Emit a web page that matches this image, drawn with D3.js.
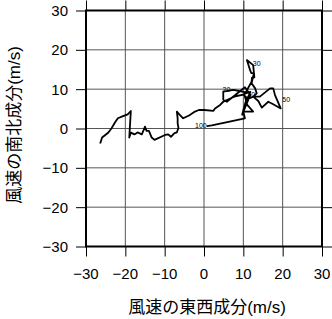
<!DOCTYPE html>
<html>
<head>
<meta charset="utf-8">
<script src="https://cdn.jsdelivr.net/npm/d3@7"></script>
<style>
  body { margin: 0; background: #fff; }
  text { font-family: "Liberation Sans", "Noto Sans CJK JP", sans-serif; fill: #000; }
</style>
</head>
<body>
<script>
// hodograph: east-west (u) and north-south (v) wind components, m/s
var uWind = [0.7, 2.0, 10.4, 10.0, 12.5, 11.0, 10.2, 11.8, 10.5, 9.7, 11.8, 10.4, 5.8, 4.9, 4.9, 7.5, 10.6,
  12.1, 12.2, 12.8, 12.7, 12.0, 11.7, 10.9, 12.5, 12.7, 12.1, 13.0, 13.4, 12.5, 14.2, 16.8, 17.6, 18.05, 19.5,
  17.6, 16.35, 14.7, 13.8, 12.5, 11.2, 10.0, 8.0, 5.8, 4.9, 4.1, 2.8, 2.4, 0.1,
  -1.3, -2.3, -3.8, -5.3, -6.1, -6.9, -6.7, -6.7, -6.5, -6.9, -7.5, -8.4, -9.1, -9.9, -12.6, -13.3,
  -14.0, -14.6, -15.0, -15.8, -16.9, -17.7, -18.56, -19.0, -18.6, -19.4, -20.9, -21.9, -22.6, -23.5,
  -24.3, -25.9, -26.4];
var vWind = [0.6, 0.8, 2.6, 4.3, 4.3, 6.0, 8.8, 9.3, 6.5, 3.5, 8.6, 10.5, 6.8, 7.3, 9.4, 9.8, 9.2,
  11.9, 12.9, 13.0, 14.1, 14.1, 14.9, 17.4, 16.1, 14.1, 11.5, 10.2, 8.95, 8.1, 8.1, 10.2, 10.2, 8.5, 5.1,
  6.15, 6.8, 5.3, 7.0, 8.1, 7.5, 8.6, 8.2, 7.25, 6.8, 6.0, 5.1, 4.5, 4.7,
  4.7, 4.3, 3.3, 2.6, 3.4, 4.3, 2.6, 1.3, 0.2, -1.0, -1.2, -2.1, -1.5, -1.65, -2.9, -2.3,
  -0.6, -0.6, 0.46, -1.5, -1.0, -1.5, -1.06, -2.3, 4.45, 3.6, 3.0, 2.6, 1.6, 0.05,
  -1.0, -2.3, -3.8];

// height labels along the curve
var markText = ["100", "10", "20", "30", "50"];
var markU = [-0.8, 12.0, 5.7, 13.4, 20.9];
var markV = [0.7, 8.6, 9.9, 16.4, 7.4];

var ticks = [-30, -20, -10, 0, 10, 20, 30];

var W = 332, H = 319;
var pL = 86, pR = 322, pT = 10.5, pB = 246.5;

var svg = d3.select("body").append("svg")
    .attr("width", W)
    .attr("height", H);

var x = d3.scaleLinear().domain([-30, 30]).range([pL, pR]);
var y = d3.scaleLinear().domain([-30, 30]).range([pB, pT]);

// grid
svg.append("g").selectAll("line")
    .data(ticks.slice(1, -1))
    .enter().append("line")
    .attr("x1", function(d) { return x(d); })
    .attr("x2", function(d) { return x(d); })
    .attr("y1", pT).attr("y2", pB)
    .attr("stroke", "#555").attr("stroke-width", 1);

svg.append("g").selectAll("line")
    .data(ticks.slice(1, -1))
    .enter().append("line")
    .attr("y1", function(d) { return y(d); })
    .attr("y2", function(d) { return y(d); })
    .attr("x1", pL).attr("x2", pR)
    .attr("stroke", "#555").attr("stroke-width", 1);

// axes, ticks on all four sides
var tickOut = 10;
svg.append("g").attr("transform", "translate(0," + pB + ")")
    .call(d3.axisBottom(x).tickValues(ticks).tickSize(tickOut).tickFormat(""));
svg.append("g").attr("transform", "translate(0," + pT + ")")
    .call(d3.axisTop(x).tickValues(ticks).tickSize(tickOut).tickFormat(""));
svg.append("g").attr("transform", "translate(" + pL + ",0)")
    .call(d3.axisLeft(y).tickValues(ticks).tickSize(tickOut).tickFormat(""));
svg.append("g").attr("transform", "translate(" + pR + ",0)")
    .call(d3.axisRight(y).tickValues(ticks).tickSize(tickOut).tickFormat(""));
svg.selectAll(".domain").remove();
svg.selectAll(".tick line").attr("stroke", "#000").attr("stroke-width", 1);

var fmt = function(d) { return d < 0 ? "\u2212" + (-d) : "" + d; };

svg.append("g").selectAll("text")
    .data(ticks)
    .enter().append("text")
    .attr("x", function(d) { return x(d); })
    .attr("y", 279)
    .attr("text-anchor", "middle")
    .attr("font-size", 15)
    .text(fmt);

svg.append("g").selectAll("text")
    .data(ticks)
    .enter().append("text")
    .attr("x", 68)
    .attr("y", function(d) { return y(d); })
    .attr("dy", "0.36em")
    .attr("text-anchor", "end")
    .attr("font-size", 15)
    .text(fmt);

// frame
svg.append("rect")
    .attr("x", pL).attr("y", pT)
    .attr("width", pR - pL).attr("height", pB - pT)
    .attr("fill", "none").attr("stroke", "#000").attr("stroke-width", 2);

// hodograph line
var pts = uWind.map(function(u, i) { return [u, vWind[i]]; });
svg.append("path")
    .datum(pts)
    .attr("d", d3.line().x(function(d) { return x(d[0]); }).y(function(d) { return y(d[1]); }))
    .attr("fill", "none")
    .attr("stroke", "#000")
    .attr("stroke-width", 1.8)
    .attr("stroke-linejoin", "round");

svg.append("g").selectAll("text")
    .data(markText)
    .enter().append("text")
    .attr("x", function(d, i) { return x(markU[i]); })
    .attr("y", function(d, i) { return y(markV[i]); })
    .attr("dy", "0.35em")
    .attr("text-anchor", "middle")
    .attr("font-size", 7)
    .text(function(d) { return d; });

// axis titles
svg.append("text")
    .attr("x", 207).attr("y", 313)
    .attr("text-anchor", "middle")
    .attr("font-size", 17)
    .text("風速の東西成分(m/s)");

svg.append("text")
    .attr("transform", "translate(20,125) rotate(-90)")
    .attr("text-anchor", "middle")
    .attr("font-size", 17)
    .text("風速の南北成分(m/s)");
</script>
</body>
</html>
